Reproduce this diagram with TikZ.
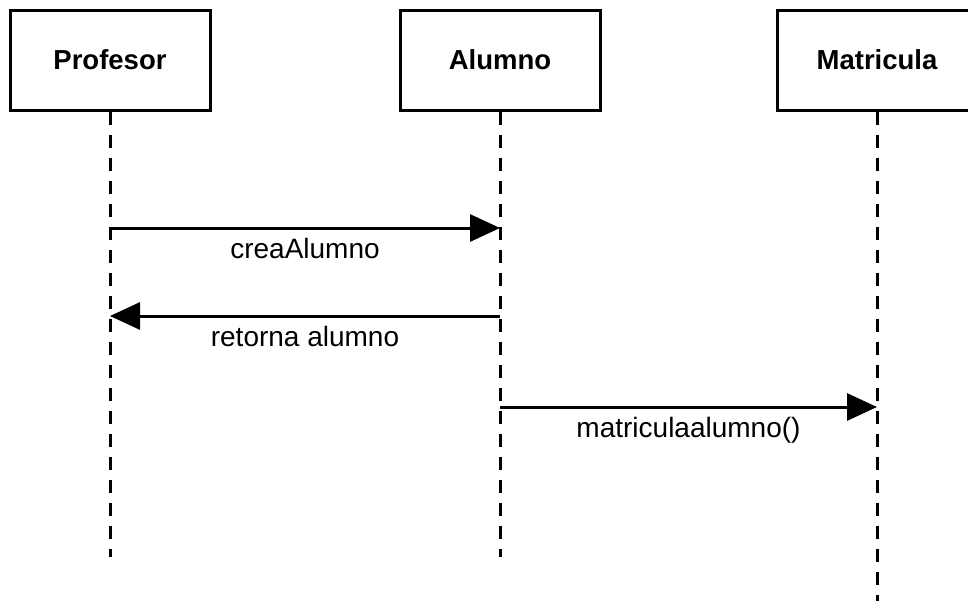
\documentclass[tikz,border=0pt]{standalone}
\usepackage{fontspec}
\setmainfont{Liberation Sans}
\usetikzlibrary{arrows.meta}
\begin{document}
\begin{tikzpicture}[x=1pt,y=-1pt,
  actor/.style={draw=black,line width=3pt,minimum width=200pt,minimum height=100pt,inner sep=0pt,
    font=\fontsize{27.5}{32}\selectfont\bfseries},
  lifeline/.style={line width=3pt,dash pattern=on 13pt off 10pt},
  msg/.style={line width=3pt,-{Triangle[length=30pt,width=27pt]}},
  msglabel/.style={midway,anchor=north,inner sep=0pt,yshift=-9pt,font=\fontsize{28}{32}\selectfont}]
\useasboundingbox (0,0) rectangle (968,600);
\node[actor] (prof) at (110,60) {Profesor};
\node[actor] (alum) at (500,60) {Alumno};
\node[actor] (matr) at (877,60) {Matricula};
\coordinate (profend) at (110,557);
\coordinate (alumend) at (500,557);
\coordinate (matrend) at (877,605);
\draw[lifeline] (prof.south) -- (profend);
\draw[lifeline] (alum.south) -- (alumend);
\draw[lifeline] (matr.south) -- (matrend);
\coordinate (p1) at (110,228);
\coordinate (a1) at (500,228);
\coordinate (p2) at (110,316);
\coordinate (a2) at (500,316);
\coordinate (a3) at (500,407);
\coordinate (m3) at (877,407);
\draw[msg] (p1) -- (a1) node[msglabel] (l1) {creaAlumno};
\draw[msg] (a2) -- (p2) node[msglabel] (l2) {retorna alumno};
\draw[msg] (a3) -- (m3) node[msglabel] (l3) {matriculaalumno()};
\end{tikzpicture}
\end{document}
